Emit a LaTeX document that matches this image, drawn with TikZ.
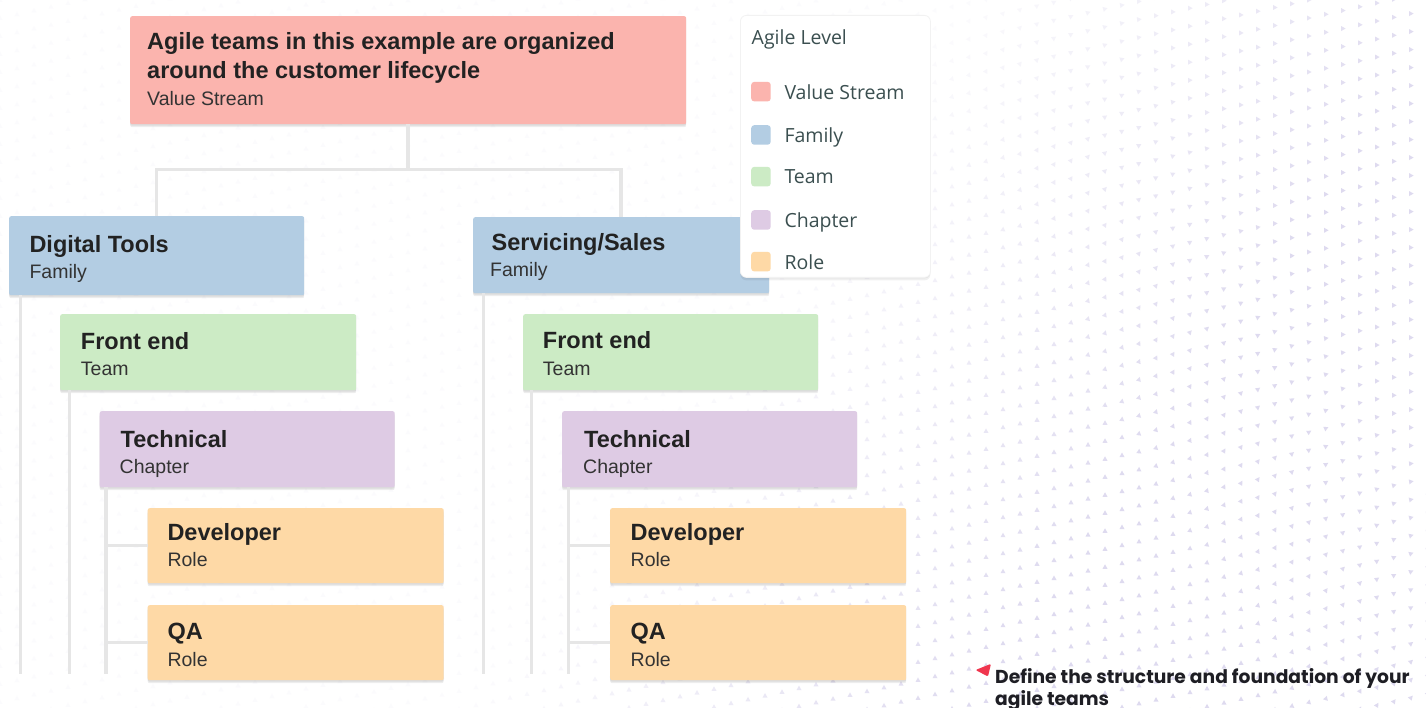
\documentclass[tikz,border=0pt]{standalone}
\usepackage{fontspec}
\setmainfont{Liberation Sans}
\newfontfamily\legfont{Open Sans}
\newfontfamily\popfont{Poppins}
\usetikzlibrary{shadows}
\definecolor{cvs}{HTML}{FBB4AE}
\definecolor{cfam}{HTML}{B3CDE3}
\definecolor{cteam}{HTML}{CCEBC5}
\definecolor{cchap}{HTML}{DECBE4}
\definecolor{crole}{HTML}{FED9A6}
\definecolor{cline}{HTML}{E6E6E6}
\definecolor{ctitle}{HTML}{222222}
\definecolor{csub}{HTML}{333333}
\definecolor{cleg}{HTML}{3B4F50}
\definecolor{cpat}{HTML}{C4BDE3}
\definecolor{cred}{HTML}{F0364E}
\definecolor{cnote}{HTML}{1E1E24}
\begin{document}
\begin{tikzpicture}[x=1pt,y=-1pt,
  softshadow/.style={drop shadow={shadow xshift=0pt,shadow yshift=-3pt,opacity=0.07,fill=black},
                     drop shadow={shadow xshift=0pt,shadow yshift=-1.5pt,opacity=0.07,fill=black}},
  box/.style={draw=none,rounded corners=2pt,inner sep=0pt,anchor=north west,softshadow},
  ttl/.style={anchor=base west,inner sep=0pt,text=ctitle,font=\fontsize{23.5}{28}\selectfont\bfseries},
  sub/.style={anchor=base west,inner sep=0pt,text=csub,font=\fontsize{19.5}{23}\selectfont},
  conn/.style={draw=cline,line width=3.5pt},
  legbox/.style={draw=black!5,line width=0.8pt,fill=white,rounded corners=6pt,inner sep=0pt,anchor=north west,
                 drop shadow={shadow xshift=0pt,shadow yshift=-3pt,opacity=0.06,fill=black},
                 drop shadow={shadow xshift=0pt,shadow yshift=-1pt,opacity=0.06,fill=black}},
  legtxt/.style={anchor=base west,inner sep=0pt,text=cleg,font=\legfont\fontsize{19.5}{23}\selectfont},
  swatch/.style={draw=none,rounded corners=3pt,inner sep=0pt,anchor=north west,minimum width=19.5pt,minimum height=19.5pt},
  note/.style={anchor=base west,inner sep=0pt,text=cnote,font=\popfont\bfseries\fontsize{18.7}{23}\selectfont},
]
\useasboundingbox (0,0) rectangle (1426,708);
\fill[white] (0,0) rectangle (1426,708);
% background pattern of faint triangles
\begin{scope}
\clip (0,0) rectangle (1426,708);
\foreach \i in {0,...,84}{
  \foreach \j in {0,...,57}{
    \pgfmathsetmacro\px{\i*17}
    \pgfmathsetmacro\py{\j*18-0.22*\px}
    \pgfmathsetmacro\op{0.05+0.5*min(1,max(0,(\px-780)/500+(\py-260)/700))}
    \pgfmathsetmacro\ang{90*min(1,max(0,\py/500+(1150-\px)/300))}
    \fill[cpat,opacity=\op,shift={(\px,\py)},rotate=\ang] (2.6,0) -- (-1.9,-2.5) -- (-1.9,2.5) -- cycle;
  }
}
\end{scope}

% boxes
\node[box,fill=cvs,minimum width=556pt,minimum height=108pt] (vs) at (130,16) {};
\node[ttl] (vst1) at (147,49.5) {Agile teams in this example are organized};
\node[ttl] (vst2) at (147,78.5) {around the customer lifecycle};
\node[sub] (vss) at (147,106) {Value Stream};

\node[box,fill=cfam,minimum width=295pt,minimum height=79pt] (dt) at (9,216) {};
\node[ttl] (dtt) at (29.3,252.5) {Digital Tools};
\node[sub] (dts) at (29.3,279) {Family};

\node[box,fill=cfam,minimum width=296pt,minimum height=76pt] (ss) at (473,217) {};
\node[ttl] (sst) at (491.5,251) {Servicing/Sales};
\node[sub] (sss) at (490,277) {Family};

\node[box,fill=cteam,minimum width=296pt,minimum height=76pt] (fe1) at (60,314) {};
\node[ttl] (fe1t) at (80.7,349) {Front end};
\node[sub] (fe1s) at (80.7,375) {Team};

\node[box,fill=cteam,minimum width=295pt,minimum height=76pt] (fe2) at (523,314) {};
\node[ttl] (fe2t) at (542.7,348.5) {Front end};
\node[sub] (fe2s) at (542.7,375) {Team};

\node[box,fill=cchap,minimum width=295pt,minimum height=76pt] (tc1) at (99.5,411) {};
\node[ttl] (tc1t) at (120.5,447.3) {Technical};
\node[sub] (tc1s) at (119.5,473.3) {Chapter};

\node[box,fill=cchap,minimum width=295pt,minimum height=76pt] (tc2) at (562,411) {};
\node[ttl] (tc2t) at (584,447) {Technical};
\node[sub] (tc2s) at (583,473.3) {Chapter};

\node[box,fill=crole,minimum width=296pt,minimum height=75pt] (dv1) at (147.5,508) {};
\node[ttl] (dv1t) at (167.3,540.7) {Developer};
\node[sub] (dv1s) at (167.3,566) {Role};

\node[box,fill=crole,minimum width=296pt,minimum height=75pt] (qa1) at (147.5,605) {};
\node[ttl] (qa1t) at (167.3,639.3) {QA};
\node[sub] (qa1s) at (167.3,666) {Role};

\node[box,fill=crole,minimum width=296pt,minimum height=75pt] (dv2) at (610,508) {};
\node[ttl] (dv2t) at (630.5,540.7) {Developer};
\node[sub] (dv2s) at (630.5,566) {Role};

\node[box,fill=crole,minimum width=296pt,minimum height=75pt] (qa2) at (610,605) {};
\node[ttl] (qa2t) at (630.5,639.3) {QA};
\node[sub] (qa2s) at (630.5,666) {Role};

% connectors
\draw[conn] (vs.south) -- ++(0,45) -| (dt.north);
\draw[conn] (vs.south) ++(0,45) -| (ss.north);

\coordinate (dtend) at (20.5,674);
\coordinate (fe1end) at (69.3,674);
\coordinate (tc1end) at (106,674);
\coordinate (ssend) at (483.3,674);
\coordinate (fe2end) at (531.5,674);
\coordinate (tc2end) at (568.5,674);

\draw[conn] (dt.south -| dtend) -- (dtend);
\draw[conn] (fe1.south -| fe1end) -- (fe1end);
\draw[conn] (tc1.south -| tc1end) -- (tc1end);
\draw[conn] (dv1.west -| tc1end) -- (dv1.west);
\draw[conn] (qa1.west -| tc1end) -- (qa1.west);

\draw[conn] (ss.south -| ssend) -- (ssend);
\draw[conn] (fe2.south -| fe2end) -- (fe2end);
\draw[conn] (tc2.south -| tc2end) -- (tc2end);
\draw[conn] (dv2.west -| tc2end) -- (dv2.west);
\draw[conn] (qa2.west -| tc2end) -- (qa2.west);

% legend
\node[legbox,minimum width=190pt,minimum height=262pt] (leg) at (740,15) {};
\node[legtxt] (legt) at (751.5,44.3) {Agile Level};
\node[swatch,fill=cvs] (sw1) at (751,81.7) {};
\node[legtxt] (lg1) at (784.3,99.3) {Value Stream};
\node[swatch,fill=cfam] (sw2) at (751,125) {};
\node[legtxt] (lg2) at (784.3,142.3) {Family};
\node[swatch,fill=cteam] (sw3) at (751,166.7) {};
\node[legtxt] (lg3) at (784.3,184) {Team};
\node[swatch,fill=cchap] (sw4) at (751,210) {};
\node[legtxt] (lg4) at (784.3,227.3) {Chapter};
\node[swatch,fill=crole] (sw5) at (751,251.7) {};
\node[legtxt] (lg5) at (784.3,269.3) {Role};

% note
\fill[cred,rounded corners=1.2pt] (975.5,670) -- (991,663.8) -- (988,676.5) -- cycle;
\node[note] (n1) at (995,683.3) {Define the structure and foundation of your};
\node[note] (n2) at (995,705.5) {agile teams};
\end{tikzpicture}
\end{document}
